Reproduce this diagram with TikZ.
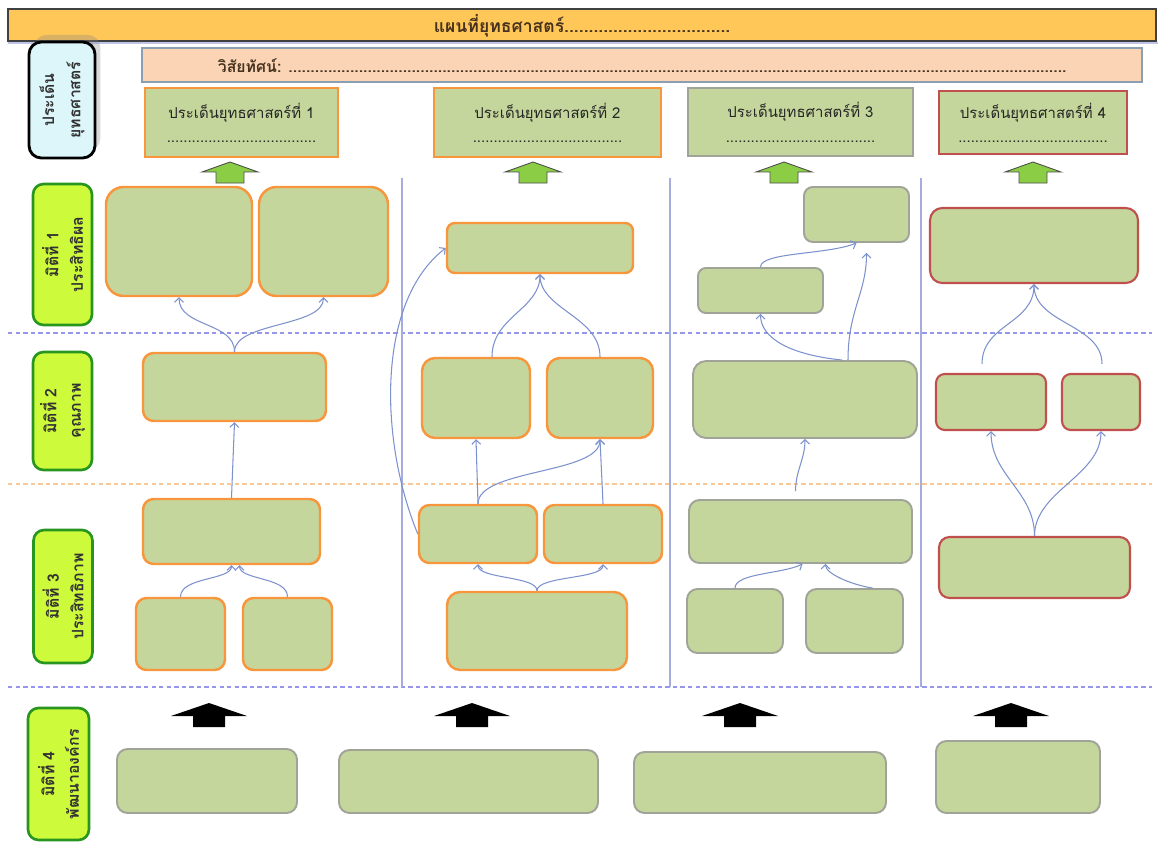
\documentclass[tikz,border=0pt]{standalone}
\usepackage{fontspec}
\setmainfont[Script=Thai]{Loma}
\usepackage{tikz}
\usetikzlibrary{arrows.meta,positioning,calc,fit,shadows}
\definecolor{titleorange}{RGB}{255,199,88}
\definecolor{visionpeach}{RGB}{251,212,182}
\definecolor{visionedge}{RGB}{138,160,178}
\definecolor{boxgreen}{RGB}{196,214,155}
\definecolor{orangeedge}{RGB}{247,150,60}
\definecolor{grayedge}{RGB}{160,164,152}
\definecolor{rededge}{RGB}{192,80,77}
\definecolor{dimlime}{RGB}{206,250,60}
\definecolor{dimedge}{RGB}{40,150,30}
\definecolor{issuecyan}{RGB}{220,246,250}
\definecolor{arrowgreen}{RGB}{140,205,70}
\definecolor{linkblue}{RGB}{125,145,205}
\definecolor{dashblue}{RGB}{150,150,235}
\definecolor{dashorange}{RGB}{250,200,150}
\definecolor{colblue}{RGB}{165,172,222}
\definecolor{inkbrown}{RGB}{70,50,30}
\newcommand{\dotrow}[1]{\foreach \k in {1,...,#1}{.}}
\newcommand{\issuetext}[1]{\smash{ประเด็นยุทธศาสตร์ที่ #1}\rule{0pt}{9.2pt}\\\dotrow{36}}

\begin{document}
\begin{tikzpicture}[x=0.02cm, y=-0.02cm,
    box/.style={rounded corners=6pt, fill=boxgreen, inner sep=0pt, line width=1.4pt},
    obox/.style={box, draw=orangeedge},
    gbox/.style={box, draw=grayedge, line width=1.1pt},
    rbox/.style={box, draw=rededge, line width=1.2pt},
    issuebox/.style={fill=boxgreen, inner sep=0pt, line width=1.4pt, align=center,
      minimum height=1.38cm, font=\fontsize{8.5}{14}\selectfont, text=black!85},
    dimbox/.style={draw=dimedge, fill=dimlime, line width=1.5pt, rounded corners=6pt,
      rotate=90, inner sep=0pt, align=center, minimum height=1.18cm,
      font=\fontsize{9}{14}\selectfont\bfseries, text=black!80},
    link/.style={draw=linkblue, line width=0.6pt, -{Straight Barb[length=2.5pt,width=5pt]}},
    sep/.style={line width=0.8pt, dash pattern=on 2.5pt off 1.8pt}]
  \useasboundingbox (0,0) rectangle (1158,841);

  % Title and vision
  \draw[colblue!70, line width=1pt] (8,43) -- (1158,43);
  \node[fill=titleorange, draw=black!75, line width=1.1pt, inner sep=0pt,
    minimum width=22.96cm, minimum height=0.64cm, text height=9pt, text depth=1pt,
    font=\fontsize{10}{12}\selectfont\bfseries, text=inkbrown]
    (title) at (582,25) {แผนที่ยุทธศาสตร์\dotrow{34}};
  \node[fill=visionpeach, draw=visionedge, line width=1pt, inner sep=0pt,
    minimum width=20cm, minimum height=0.68cm, text height=9pt, text depth=1pt,
    font=\fontsize{9}{12}\selectfont\bfseries, text=inkbrown]
    (vision) at (642,65) {วิสัยทัศน์: \dotrow{177}};
  \node[draw=black, fill=issuecyan, line width=1.6pt, rounded corners=7pt, rotate=90,
    inner sep=0pt, align=center, minimum width=2.32cm, minimum height=1.32cm,
    font=\fontsize{9}{15}\selectfont\bfseries, text=black!80,
    drop shadow={shadow xshift=3pt, shadow yshift=4pt, opacity=0.3}]
    (issuelbl) at (62,100) {ประเด็น\\ยุทธศาสตร์};

  % Strategic issues
  \node[issuebox, draw=orangeedge, minimum width=3.86cm] (is1) at (241.5,122.5) {\issuetext{1}};
  \node[issuebox, draw=orangeedge, minimum width=4.54cm] (is2) at (547.5,122.5) {\issuetext{2}};
  \node[issuebox, draw=grayedge, line width=1.1pt, minimum width=4.5cm, minimum height=1.36cm]
    (is3) at (800.5,122) {\issuetext{3}};
  \node[issuebox, draw=rededge, line width=1.2pt, minimum width=3.76cm, minimum height=1.26cm]
    (is4) at (1033,122.5) {\issuetext{4}};
  \foreach \cx in {230,533,784,1033}
    \draw[fill=arrowgreen, draw=black!70, line width=0.5pt] (\cx,162) -- (\cx+28,172) -- (\cx+14,172)
      -- (\cx+14,183) -- (\cx-14,183) -- (\cx-14,172) -- (\cx-28,172) -- cycle;

  % Dimensions
  \node[dimbox, minimum width=2.82cm] (dim1) at (62.5,254.5) {มิติที่ 1\\ประสิทธิผล};
  \node[dimbox, minimum width=2.36cm] (dim2) at (62.5,411) {มิติที่ 2\\คุณภาพ};
  \node[dimbox, minimum width=2.66cm] (dim3) at (63,596.5) {มิติที่ 3\\ประสิทธิภาพ};
  \node[dimbox, minimum width=2.64cm, minimum height=1.22cm] (dim4) at (58.5,774) {มิติที่ 4\\พัฒนาองค์กร};

  % Separators
  \draw[sep, dashblue] (8,333) -- (1152,333);
  \draw[sep, dashorange] (8,484) -- (1152,484);
  \draw[sep, dashblue] (8,687) -- (1152,687);
  \foreach \cx in {402,670,921}
    \draw[colblue, line width=0.7pt] (\cx,178) -- (\cx,687);

  % Column 1
  \node[obox, rounded corners=10pt, fit={(106,187)(252,296)}] (a1) {};
  \node[obox, rounded corners=10pt, fit={(259,187)(388,296)}] (a2) {};
  \node[obox, fit={(143,353)(326,421)}] (b1) {};
  \node[obox, fit={(143,499)(320,564)}] (c1) {};
  \node[obox, fit={(136,598)(225,670)}] (d1) {};
  \node[obox, fit={(243,598)(332,670)}] (d2) {};
  \draw[link] (b1.north) .. controls +(0,-30) and +(0,30) .. (a1.south);
  \draw[link] (b1.north) .. controls +(0,-30) and +(0,30) .. (a2.south);
  \draw[link] (c1.north) -- (b1.south);
  \draw[link] (d1.north) .. controls +(0,-20) and +(0,15) .. (c1.south);
  \draw[link] (d2.north) .. controls +(0,-20) and +(0,15) .. ($(c1.south)+(8,0)$);

  % Column 2
  \node[obox, rounded corners=4.5pt, fit={(447,223)(633,273)}] (e1) {};
  \node[obox, rounded corners=7.5pt, fit={(422,358)(530,438)}] (f1) {};
  \node[obox, rounded corners=7.5pt, fit={(547,358)(653,438)}] (f2) {};
  \node[obox, fit={(419,505)(537,563)}] (g1) {};
  \node[obox, fit={(544,505)(662,563)}] (g2) {};
  \node[obox, rounded corners=7.5pt, fit={(447,592)(627,670)}] (h1) {};
  \draw[link] ($(f1.north)+(16,0)$) .. controls +(0,-40) and +(0,35) .. (e1.south);
  \draw[link] (f2.north) .. controls +(0,-40) and +(0,35) .. (e1.south);
  \draw[link] (g1.north) -- (f1.south);
  \draw[link] (g1.north) .. controls +(0,-35) and +(0,35) .. (f2.south);
  \draw[link] (g2.north) -- (f2.south);
  \draw[link] (g1.west) .. controls +(-39,-95) and +(-69,53) .. (e1.west);
  \draw[link] (h1.north) .. controls +(0,-15) and +(0,15) .. (g1.south);
  \draw[link] (h1.north) .. controls +(0,-15) and +(0,15) .. (g2.south);

  % Column 3
  \node[gbox, rounded corners=5pt, fit={(804,187)(909,242)}] (i1) {};
  \node[gbox, rounded corners=4.5pt, fit={(698,268)(823,313)}] (i2) {};
  \node[gbox, rounded corners=7.5pt, fit={(693,361)(917,438)}] (j1) {};
  \node[gbox, fit={(689,500)(912,563)}] (k1) {};
  \node[gbox, fit={(687,589)(783,653)}] (l1) {};
  \node[gbox, fit={(806,589)(903,653)}] (l2) {};
  \draw[link] (i2.north) .. controls +(0,-15) and +(-30,12) .. (i1.south);
  \draw[link] ($(j1.north)+(43,0)$) .. controls +(0,-50) and +(0,40) .. ($(i1.south)+(10,10)$);
  \draw[link] ($(j1.north)+(37,0)$) .. controls +(-50,-5) and +(0,25) .. (i2.south);
  \draw[link] ($(k1.north)+(-5,-8)$) .. controls +(0,-20) and +(0,20) .. (j1.south);
  \draw[link] (l1.north) .. controls +(0,-15) and +(-20,10) .. ($(k1.south)+(2,0)$);
  \draw[link] ($(l2.north)+(18,0)$) .. controls +(-20,-3) and +(0,10) .. ($(k1.south)+(25,0)$);

  % Column 4
  \node[rbox, rounded corners=7pt, fit={(930,208)(1138,283)}] (m1) {};
  \node[rbox, rounded corners=5pt, fit={(936,374)(1046,430)}] (n1) {};
  \node[rbox, rounded corners=5pt, fit={(1062,374)(1140,430)}] (n2) {};
  \node[rbox, fit={(939,537)(1130,598)}] (o1) {};
  \draw[link] ($(n1.north)+(-9,-9)$) .. controls +(0,-40) and +(0,40) .. (m1.south);
  \draw[link] ($(n2.north)+(1,-9)$) .. controls +(0,-40) and +(0,40) .. (m1.south);
  \draw[link] (o1.north) .. controls +(0,-45) and +(0,45) .. (n1.south);
  \draw[link] (o1.north) .. controls +(0,-45) and +(0,45) .. (n2.south);

  % Dimension 4
  \foreach \cx in {209,472,740,1011}
    \fill (\cx,703) -- (\cx+38,716) -- (\cx+16,716) -- (\cx+16,727) -- (\cx-16,727)
      -- (\cx-16,716) -- (\cx-38,716) -- cycle;
  \node[gbox, fit={(117,749)(297,813)}] (p1) {};
  \node[gbox, fit={(339,750)(598,813)}] (p2) {};
  \node[gbox, fit={(634,752)(886,813)}] (p3) {};
  \node[gbox, fit={(936,741)(1100,813)}] (p4) {};
\end{tikzpicture}
\end{document}
